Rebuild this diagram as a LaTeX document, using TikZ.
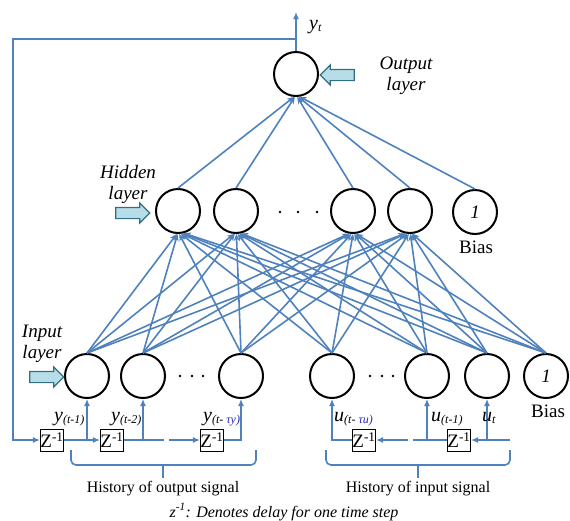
\documentclass[tikz,border=0pt]{standalone}
\usepackage{fontspec}
\setmainfont{Liberation Serif}
\usetikzlibrary{arrows.meta,shapes.arrows,calc}
\definecolor{sigblue}{RGB}{79,129,189}
\definecolor{arrowfill}{RGB}{183,222,232}
\definecolor{arrowdraw}{RGB}{49,112,128}
\definecolor{taublue}{RGB}{40,40,190}
\newcommand\siglbl[2]{{\fontsize{20}{20}\selectfont\itshape #1}{\fontsize{12}{12}\selectfont\itshape\raisebox{-2.5pt}{#2}}}
\begin{document}
\begin{tikzpicture}[x=1pt,y=-1pt,
  neuron/.style={circle,draw=black,line width=2pt,fill=white,minimum size=44pt,inner sep=0pt,font=\fontsize{19}{19}\selectfont\itshape},
  wire/.style={draw=sigblue,line width=1.6pt},
  conn/.style={wire,-{Stealth[length=7pt,width=6pt]}},
  sig/.style={wire,-{Latex[length=7pt,width=6pt]}},
  delaybox/.style={draw=black,line width=0.9pt,fill=white,minimum width=23pt,minimum height=22pt,inner sep=0pt,font=\fontsize{19}{19}\selectfont},
  layerarrow/.style={single arrow,draw=arrowdraw,fill=arrowfill,line width=1.2pt,minimum height=34pt,inner sep=5pt,single arrow head extend=4.5pt,single arrow tip angle=90},
  layertext/.style={font=\fontsize{19}{21}\selectfont\itshape,align=center},
  histtext/.style={font=\fontsize{16}{16}\selectfont},
  biastext/.style={font=\fontsize{19}{19}\selectfont}
]
\useasboundingbox (0,0) rectangle (570,520);

% neurons
\node[neuron] (out) at (296,74) {};
\node[neuron] (h1) at (178,211) {};
\node[neuron] (h2) at (236,211) {};
\node[neuron] (h3) at (353,211) {};
\node[neuron] (h4) at (410,211) {};
\node[neuron] (h5) at (475,212) {1};
\node[neuron] (in1) at (87,376) {};
\node[neuron] (in2) at (143,376) {};
\node[neuron] (in3) at (241,376) {};
\node[neuron] (in4) at (332,376) {};
\node[neuron] (in5) at (427,376) {};
\node[neuron] (in6) at (487,376) {};
\node[neuron] (in7) at (546,376) {1};

% dots
\foreach \x in {280,298,317} \fill (\x,212) circle (1.4pt);
\foreach \x in {180,192,203} \fill (\x,376) circle (1.4pt);
\foreach \x in {370,382,393} \fill (\x,376) circle (1.4pt);

% input -> hidden
\foreach \i/\xi in {1/87,2/143,3/241,4/332,5/427,6/487,7/546}{
  \foreach \j/\xj in {1/178,2/236,3/353,4/410}{
    \pgfmathtruncatemacro\ang{-90-(\xj-\xi)/25}
    \draw[conn] (in\i.north) -- (h\j.\ang);
  }
}
% hidden -> output
\foreach \j/\xj in {1/178,2/236,3/353,4/410,5/475}{
  \pgfmathtruncatemacro\ang{-90-(296-\xj)/20}
  \draw[conn] (h\j.north) -- (out.\ang);
}

% output signal and feedback
\coordinate (yt) at (296,12);
\coordinate (fb0) at (296,39);
\coordinate (fbA) at (13,39);
\coordinate (fbB) at (13,440);
\draw[sig] (out.north) -- (yt);
\node[anchor=base west,inner sep=0pt] (ytlbl) at (309,29) {\siglbl{y}{t}};

% delay boxes
\node[delaybox] (z1) at (52,440) {Z\textsuperscript{-1}};
\node[delaybox] (z2) at (112,440) {Z\textsuperscript{-1}};
\node[delaybox] (z3) at (212,440) {Z\textsuperscript{-1}};
\node[delaybox] (z4) at (364,440) {Z\textsuperscript{-1}};
\node[delaybox] (z5) at (459,440) {Z\textsuperscript{-1}};

\draw[sig] (fb0) -- (fbA) -- (fbB) -- (z1.west);
\draw[sig] (z1.east) -- (z2.west);
\coordinate (t1) at (87,440);
\draw[sig] (t1) -- (in1.south);
\coordinate (t2) at (143,440);
\coordinate (d1) at (157,440);
\coordinate (d2) at (174,440);
\draw[wire] (z2.east) -- (d1);
\draw[wire,dash pattern=on 7pt off 5pt] (d1) -- (d2);
\draw[sig] (d2) -- (z3.west);
\draw[sig] (t2) -- (in2.south);
\draw[sig] (z3.east) -| (in3.south);

\coordinate (uin) at (510,440);
\draw[sig] (uin) -- (z5.east);
\coordinate (t6) at (487,440);
\draw[sig] (t6) -- (in6.south);
\coordinate (t5) at (427,440);
\coordinate (d3) at (420,440);
\coordinate (d4) at (402,440);
\draw[wire] (z5.west) -- (d3);
\draw[wire,dash pattern=on 7pt off 5pt] (d3) -- (d4);
\draw[sig] (d4) -- (z4.east);
\draw[sig] (t5) -- (in5.south);
\draw[sig] (z4.west) -| (in4.south);

% signal labels
\node[anchor=base west,inner sep=0pt] (ly1) at (54,421) {\siglbl{y}{(t-1)}};
\node[anchor=base west,inner sep=0pt] (ly2) at (111,421) {\siglbl{y}{(t-2)}};
\node[anchor=base west,inner sep=0pt] (ly3) at (203,421) {\siglbl{y}{(t- {\color{taublue}τy)}}};
\node[anchor=base west,inner sep=0pt] (lu3) at (334,421) {\siglbl{u}{(t- {\color{taublue}τu)}}};
\node[anchor=base west,inner sep=0pt] (lu2) at (431,421) {\siglbl{u}{(t-1)}};
\node[anchor=base west,inner sep=0pt] (lu1) at (482,421) {\siglbl{u}{t}};

% braces
\coordinate (bo1) at (71,450);
\coordinate (bo2) at (256,450);
\coordinate (bom) at (163,465);
\coordinate (bot) at (163,478);
\draw[wire,rounded corners=5pt] (bo1) |- (bom) -| (bo2);
\draw[wire] (bom) -- (bot);
\coordinate (bi1) at (326,450);
\coordinate (bi2) at (510,450);
\coordinate (bim) at (418,465);
\coordinate (bit) at (418,478);
\draw[wire,rounded corners=5pt] (bi1) |- (bim) -| (bi2);
\draw[wire] (bim) -- (bit);

\node[histtext] (histout) at (163,489) {History of output signal};
\node[histtext] (histin) at (418,489) {History of input signal};
\node[histtext,font=\fontsize{16}{16}\selectfont\itshape] (note) at (284,512) {z\textsuperscript{-1}: Denotes delay for one time step};

% layer labels and arrows
\node[layerarrow,shape border rotate=180] (oarr) at (340,75) {};
\node[layertext] (olbl) at (406,76) {Output\\layer};
\node[layerarrow] (harr) at (130,213) {};
\node[layertext] (hlbl) at (128,184) {Hidden\\layer};
\node[layerarrow] (iarr) at (44,377) {};
\node[layertext] (ilbl) at (42,344) {Input\\layer};

% bias labels
\node[biastext] (hb) at (476,247) {Bias};
\node[biastext] (ib) at (548,411) {Bias};
\end{tikzpicture}
\end{document}
